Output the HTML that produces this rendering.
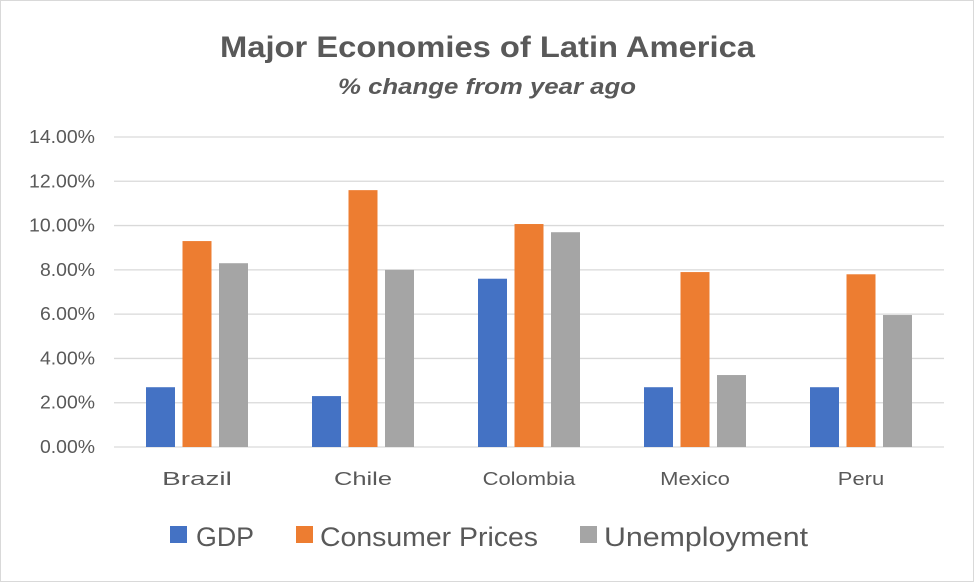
<!DOCTYPE html>
<html><head><meta charset="utf-8"><style>
html,body{margin:0;padding:0;background:#fff;}
#wrap{position:relative;width:975px;height:583px;overflow:hidden;font-family:"Liberation Sans",sans-serif;}
</style></head><body>
<div id="wrap">
<svg id="chart" width="975" height="583">
<rect x="0.5" y="0.5" width="973" height="581" fill="#fff" stroke="#d9d9d9"/>
<text x="220" y="57" textLength="535" lengthAdjust="spacingAndGlyphs" font-size="30" font-weight="bold" fill="#595959">Major Economies of Latin America</text>
<text x="338" y="94" textLength="298" lengthAdjust="spacingAndGlyphs" font-size="22" font-weight="bold" font-style="italic" fill="#595959">% change from year ago</text>
<g id="grid"></g><g id="bars"></g><g id="xlabels"></g>
<g id="legend" font-size="27" fill="#595959">
<rect x="170" y="526" width="17" height="17" fill="#4472C4"/>
<text x="196" y="546" textLength="58" lengthAdjust="spacingAndGlyphs">GDP</text>
<rect x="296" y="526" width="17" height="17" fill="#ED7D31"/>
<text x="320" y="546" textLength="218" lengthAdjust="spacingAndGlyphs">Consumer Prices</text>
<rect x="580" y="526" width="17" height="17" fill="#A5A5A5"/>
<text x="604" y="546" textLength="204" lengthAdjust="spacingAndGlyphs">Unemployment</text>
</g>
</svg>
</div>
<script>
const categories = ["Brazil","Chile","Colombia","Mexico","Peru"];
const gdp = [2.7, 2.3, 7.6, 2.7, 2.7];
const consumerPrices = [9.3, 11.6, 10.07, 7.9, 7.8];
const unemployment = [8.3, 8.0, 9.7, 3.25, 5.96];
const yTicks = [0,2,4,6,8,10,12,14];
const yTickLabels = ["0.00%","2.00%","4.00%","6.00%","8.00%","10.00%","12.00%","14.00%"];

const NS="http://www.w3.org/2000/svg";
const plotL=114, plotR=944, y0=447, y14=137;
function yScale(v){return y0-(v/14)*(y0-y14);}
const catW=(plotR-plotL)/categories.length;
function xCenter(i){return plotL+catW*(i+0.5);}
function mk(tag,attrs,parent){const e=document.createElementNS(NS,tag);for(const k in attrs)e.setAttribute(k,attrs[k]);parent.appendChild(e);return e;}

const grid=document.getElementById('grid');
yTicks.forEach((t,i)=>{
  const y=yScale(t);
  const l=mk('line',{x1:plotL,x2:plotR,y1:y,y2:y,stroke:'#d9d9d9','stroke-width':1.3},grid);
  
  
  const lab=yTickLabels[i];
  const w=lab.length*11;
  const tx=mk('text',{x:95-w,y:y+6,textLength:w,lengthAdjust:'spacingAndGlyphs','font-size':18,fill:'#595959'},grid);
  tx.textContent=lab;
  
  
});

const series=[{d:gdp,c:'#4472C4',n:'gdp'},{d:consumerPrices,c:'#ED7D31',n:'consumer-prices'},{d:unemployment,c:'#A5A5A5',n:'unemployment'}];
const bw=29, step=36.5;
const bars=document.getElementById('bars');
categories.forEach((cat,i)=>{
  const cx=xCenter(i);
  series.forEach((s,j)=>{
    const x=cx+(j-1)*step-bw/2;
    const y=yScale(s.d[i]);
    const r=mk('rect',{x:x,y:y,width:bw,height:y0-y,fill:s.c},bars);
    
    
  });
  const w=cat.length*11.6;
  const t=mk('text',{x:cx-w/2,y:485,textLength:w,lengthAdjust:'spacingAndGlyphs','font-size':18,fill:'#595959'},document.getElementById('xlabels'));
  t.textContent=cat;
  
  
});
</script>
</body></html>
